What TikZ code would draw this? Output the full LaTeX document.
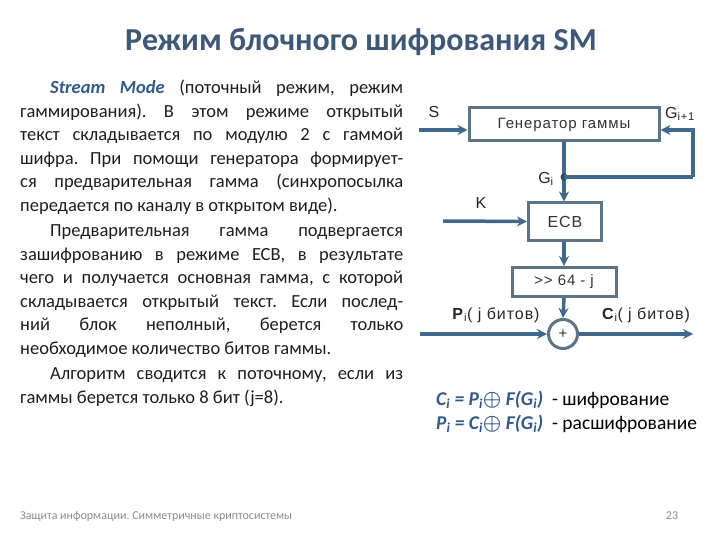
\documentclass[tikz,border=0pt]{standalone}
\usepackage{fontspec}
\setmainfont{Carlito}
\newfontfamily\arialfont[LetterSpace=6]{Liberation Sans}
\usetikzlibrary{positioning,arrows.meta}
\definecolor{titleblue}{HTML}{3D5878}
\definecolor{streamblue}{HTML}{2F5A8C}
\definecolor{lineblue}{HTML}{41698F}
\definecolor{boxgray}{HTML}{5C7488}
\definecolor{bodytext}{HTML}{1E1E1E}
\definecolor{footgray}{HTML}{8C8C8C}
\frenchspacing
\tikzset{
  flow/.style={draw=lineblue, line width=3.5pt, -{Stealth[length=10pt,width=10pt]}},
  wire/.style={draw=lineblue, line width=3.5pt},
  blockbox/.style={draw=boxgray, line width=3pt, fill=white, text=black!80,
    font=\arialfont\fontsize{15}{17}\selectfont, inner sep=0pt},
  lbl/.style={text=black!85, font=\arialfont\fontsize{16}{18}\selectfont, inner sep=0pt}
}
\begin{document}
\begin{tikzpicture}[x=1pt,y=-1pt]
\useasboundingbox[fill=white] (0,0) rectangle (720,540);

% title
\node[text=titleblue, font=\fontsize{32}{36}\selectfont\bfseries] (title) at (361,42) {Режим блочного шифрования SM};

% left text
\node[anchor=north west, inner sep=0pt, text width=383pt, align=justify, text=bodytext,
  font=\fontsize{18.5}{23.5}\selectfont\setlength\parskip{2pt}] (body) at (20,80)
{\hspace*{30pt}{\color{streamblue}\bfseries\itshape Stream Mode} (поточный режим, режим\linebreak
гаммирования). В этом режиме открытый\linebreak
текст складывается по модулю 2 с гаммой\linebreak
шифра. При помощи генератора формирует-\linebreak
ся предварительная гамма (синхропосылка\linebreak
передается по каналу в открытом виде).\par
\hspace*{30pt}Предварительная гамма подвергается\linebreak
зашифрованию в режиме ЕСВ, в результате\linebreak
чего и получается основная гамма, с которой\linebreak
складывается открытый текст. Если послед-\linebreak
ний блок неполный, берется только\linebreak
необходимое количество битов гаммы.\par
\hspace*{30pt}Алгоритм сводится к поточному, если из\linebreak
гаммы берется только 8 бит (j=8).\par};

% scheme
\node[blockbox, minimum width=190pt, minimum height=33pt] (gen) at (564,124.5) {Генератор гаммы};
\node[blockbox, minimum width=73pt, minimum height=37pt, font=\arialfont\fontsize{16}{18}\selectfont] (ecb) at (565,221.5) {ECB};
\node[blockbox, minimum width=104pt, minimum height=29pt] (shift) at (564,282) {>\kern1pt> 64 - j};
\node[blockbox, circle, minimum size=29pt] (xor) at (563,334) {+};

\coordinate (sin) at (419,130);
\coordinate (kin) at (443,221);
\coordinate (gi) at (564,177);
\coordinate (fb) at (693,177);
\coordinate (pin) at (420,334);
\coordinate (cout) at (693,334);

\node[lbl] (slbl) at (434,112) {S};
\node[lbl] (klbl) at (481,203) {K};
\node[lbl] (gilbl) at (546,179) {G\textsubscript{i}};
\node[lbl] (gnlbl) at (680,114) {G\textsubscript{i+1}};
\node[lbl] (plbl) at (496,315) {\textbf{P}\textsubscript{i}( j битов)};
\node[lbl] (clbl) at (646,315) {\textbf{C}\textsubscript{i}( j битов)};

\draw[flow] (sin) -- ([yshift=-5.5pt]gen.west);
\draw[flow] (gen.south) -- (gen.south |- ecb.north);
\fill[lineblue!70!black] (gi) circle (3.5pt);
\draw[wire] (gi) -- (fb);
\draw[flow] (fb) |- ([yshift=-5.5pt]gen.east);
\draw[flow] (kin) -- (ecb.west);
\draw[flow] (ecb.south -| shift.north) -- (shift.north);
\draw[flow] (shift.south) -- (xor.north);
\draw[flow] (pin) -- (xor.west);
\draw[flow] (xor.east) -- (cout);

% formulas
\node[anchor=west, inner sep=0pt, font=\fontsize{19.5}{22}\selectfont] (enc) at (436,400)
  {{\color{streamblue}\bfseries\itshape C\textsubscript{i} = P\textsubscript{i}{\boldmath$\oplus$} F(G\textsubscript{i})}\ \ - шифрование};
\node[anchor=west, inner sep=0pt, font=\fontsize{19.5}{22}\selectfont] (dec) at (436,424)
  {{\color{streamblue}\bfseries\itshape P\textsubscript{i} = C\textsubscript{i}{\boldmath$\oplus$} F(G\textsubscript{i})}\ \ - расшифрование};

% footer
\node[anchor=west, inner sep=0pt, text=footgray, font=\fontsize{12}{14}\selectfont] (foot) at (20,516) {Защита информации. Симметричные криптосистемы};
\node[inner sep=0pt, text=footgray, font=\fontsize{12}{14}\selectfont] (page) at (672,516) {23};
\end{tikzpicture}
\end{document}
